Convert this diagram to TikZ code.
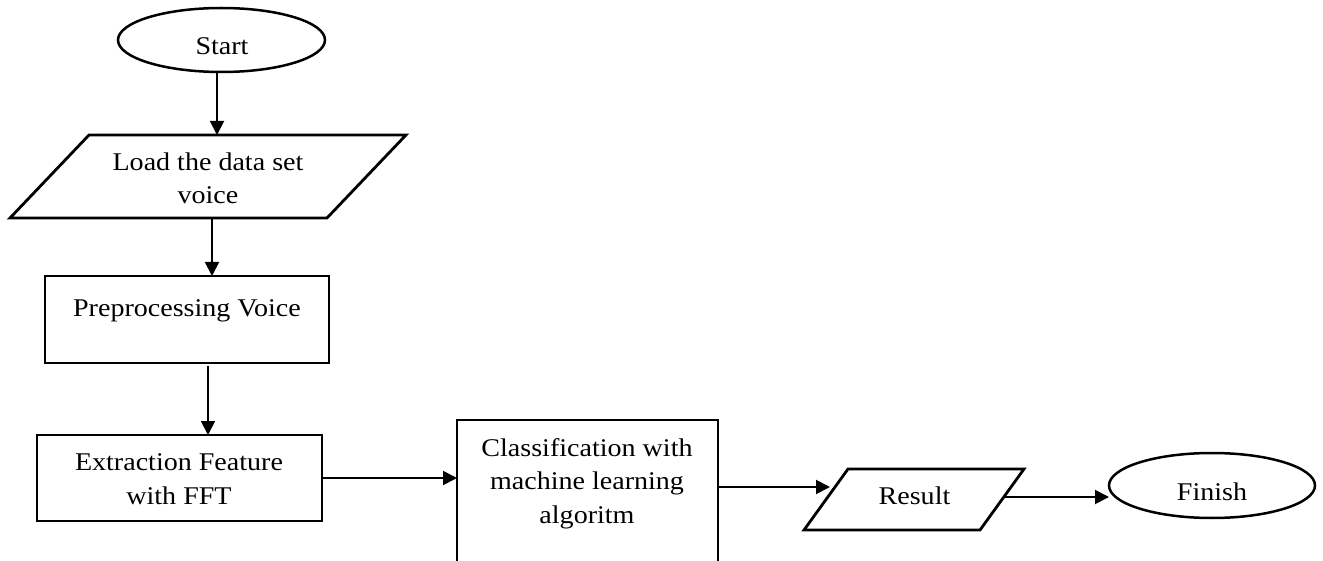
\documentclass[tikz,border=0pt]{standalone}
\usepackage{fontspec}
\setmainfont{Liberation Serif}[FakeStretch=1.1]
\usetikzlibrary{shapes.geometric,arrows.meta}
\begin{document}
\begin{tikzpicture}[x=1pt,y=-1pt,
  box/.style={draw, line width=2.8pt, rectangle, inner sep=0pt, outer sep=0pt},
  term/.style={draw, line width=2.5pt, ellipse, inner sep=0pt, outer sep=0pt},
  io/.style={draw, line width=2.8pt, line join=miter},
  txt/.style={align=center, inner sep=0pt, font=\fontsize{25.5}{33.3}\selectfont, anchor=base},
  arr/.style={line width=1.9pt, -{Triangle[length=14pt,width=14pt]}}]
\useasboundingbox (0,0) rectangle (1323,561);
\clip (0,0) rectangle (1323,561);
% shapes
\node[term, minimum width=207pt, minimum height=64pt] (start) at (221.5,40) {};
\draw[io] (10,218) -- (89,135) -- (406,135) -- (327,218) -- cycle;
\coordinate (loadtop) at (217,135);
\coordinate (loadbot) at (212,218);
\node[box, minimum width=284pt, minimum height=87pt] (prep) at (187,319.5) {};
\node[box, minimum width=285pt, minimum height=86pt] (extr) at (179.5,478) {};
\node[box, minimum width=261pt, minimum height=160pt] (cls) at (587.5,500) {};
\draw[io] (804,530) -- (848,469) -- (1024,469) -- (980,530) -- cycle;
\coordinate (resin) at (830,487);
\coordinate (resout) at (1004,497);
\node[term, minimum width=206pt, minimum height=65pt] (fin) at (1212,485.5) {};
% texts (anchor base = baseline of the last line)
\node[txt] (tstart) at (222,55) {Start};
\node[txt] (tload) at (208,204) {Load the data set\\voice};
\node[txt] (tprep) at (187,317) {Preprocessing Voice};
\node[txt] (textr) at (179,504) {Extraction Feature\\with FFT};
\node[txt] (tcls) at (587,523) {Classification with\\machine learning\\algoritm};
\node[txt] (tres) at (914.5,504) {Result};
\node[txt] (tfin) at (1212,500) {Finish};
% connectors
\draw[arr] (start.south -| loadtop) -- (loadtop);
\draw[arr] (loadbot) -- (loadbot |- prep.north);
\draw[arr] ([xshift=28.5pt,yshift=-3pt]extr.north |- prep.south) -- ([xshift=28.5pt]extr.north);
\draw[arr] (extr.east) -- (extr.east -| cls.west);
\draw[arr] (cls.east |- resin) -- (resin);
\draw[arr] (resout) -- (resout -| fin.west);
\end{tikzpicture}
\end{document}
